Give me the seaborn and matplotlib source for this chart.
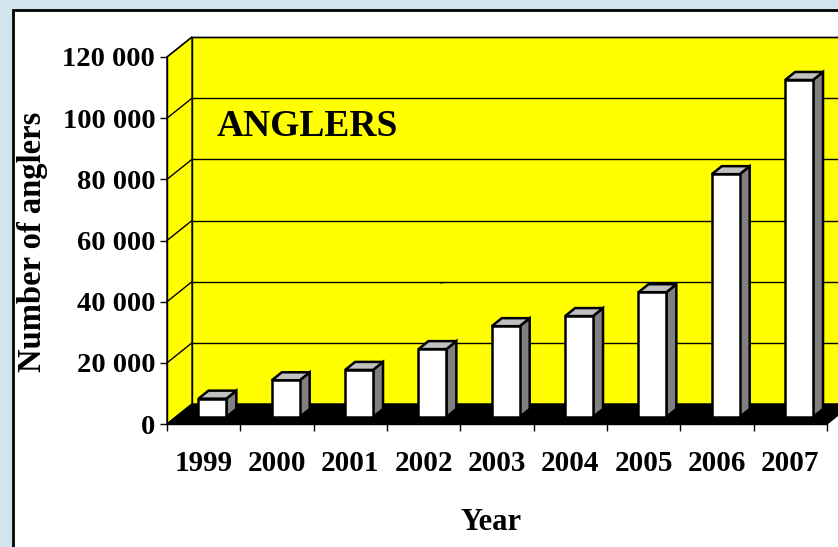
"""Anglers per year — pseudo-3D column chart, saved to out.png."""

import matplotlib.pyplot as plt
import numpy as np
import pandas as pd
import seaborn as sns
from matplotlib.patches import Polygon, Rectangle

sns.set_theme(style="white")
plt.rcParams["font.family"] = ["Liberation Serif", "DejaVu Serif"]
plt.rcParams["font.weight"] = "bold"
for key in ["text.color", "axes.labelcolor", "xtick.color", "ytick.color"]:
    plt.rcParams[key] = "black"

# data
years = ["1999", "2000", "2001", "2002", "2003", "2004", "2005", "2006", "2007"]
anglers = [6000, 12000, 15400, 22200, 29700, 33000, 40800, 79400, 110200]
y_ticks = [0, 20000, 40000, 60000, 80000, 100000, 120000]

df = pd.DataFrame({"Year": years, "Anglers": anglers})

W, H = 838, 547
fig = plt.figure(figsize=(W / 100, H / 100), dpi=100)
fig.patch.set_facecolor("#d2e4ee")

# white slide panel with black border
fig.add_artist(Rectangle((13 / W, -0.05), 1.1, 1.05 - 10 / H, transform=fig.transFigure,
                         facecolor="white", edgecolor="black", lw=2, zorder=0))

# axes = front plane of the 3D box
ax = fig.add_axes([167 / W, (H - 424) / H, 660 / W, 367 / H])
ax.patch.set_visible(False)
ax.set_xlim(-0.5, len(years) - 0.5)
ax.set_ylim(0, y_ticks[-1])

# depth vector in data units (25 px right, 20 px up)
px_x = 660 / len(years)
px_y = 367 / y_ticks[-1]
DX, DY = 25 / px_x, 20 / px_y
x0, x1, ymax = -0.5, len(years) - 0.5, y_ticks[-1]

yellow = "#ffff00"
# back wall
ax.add_patch(Rectangle((x0 + DX, DY), x1 - x0 + 1, ymax, facecolor=yellow,
                       edgecolor="black", lw=1, zorder=0, clip_on=False))
# left wall
ax.add_patch(Polygon([(x0, 0), (x0, ymax), (x0 + DX, ymax + DY), (x0 + DX, DY)],
                     facecolor=yellow, edgecolor="black", lw=1, zorder=0.5, clip_on=False))
# gridlines on both walls
for v in y_ticks[1:]:
    ax.plot([x0 + DX, x1 + DX + 1], [v + DY, v + DY], color="black", lw=1, zorder=1, clip_on=False)
    ax.plot([x0, x0 + DX], [v, v + DY], color="black", lw=1, zorder=1, clip_on=False)
# floor
ax.add_patch(Polygon([(x0, 0), (x1, 0), (x1 + DX, DY), (x0 + DX, DY)],
                     facecolor="black", edgecolor="black", lw=1, zorder=2, clip_on=False))

# front faces via seaborn, then push them back into the box
sns.barplot(data=df, x="Year", y="Anglers", color="white", saturation=1, width=0.38,
            edgecolor="black", linewidth=1.8, ax=ax, zorder=4)
s1, s2 = 0.35, 0.75
for p in ax.patches[-len(years):]:
    x, w, h = p.get_x() + s1 * DX, p.get_width(), p.get_height()
    b = s1 * DY
    p.set_x(x)
    p.set_y(b)
    p.set_clip_on(False)
    d = (s2 - s1)
    side = [(x + w, b), (x + w, b + h), (x + w + d * DX, b + h + d * DY), (x + w + d * DX, b + d * DY)]
    top = [(x, b + h), (x + w, b + h), (x + w + d * DX, b + h + d * DY), (x + d * DX, b + h + d * DY)]
    ax.add_patch(Polygon(side, facecolor="#808080", edgecolor="black", lw=1.8, zorder=3, clip_on=False))
    ax.add_patch(Polygon(top, facecolor="#c0c0c0", edgecolor="black", lw=1.8, zorder=3, clip_on=False))

# axes, ticks, labels
for side_name in ["top", "right"]:
    ax.spines[side_name].set_visible(False)
for side_name in ["left", "bottom"]:
    ax.spines[side_name].set_color("black")
    ax.spines[side_name].set_linewidth(1)
    ax.spines[side_name].set_zorder(5)

ax.set_yticks(y_ticks, [f"{v:,}".replace(",", " ") for v in y_ticks])
ax.set_xticks(np.arange(x0, x1 + 0.5, 1), [])
ax.set_xticks(np.arange(len(years)), years, minor=True)
ax.tick_params(axis="y", direction="out", length=5, width=1, color="black", pad=3.5,
               labelsize=20.5, left=True, labelcolor="black")
ax.tick_params(axis="x", which="major", direction="out", length=5, width=1, color="black",
               bottom=True)
ax.tick_params(axis="x", which="minor", length=0, pad=18.5, labelsize=21, labelcolor="black")
for lab in ax.get_xticklabels(minor=True) + ax.get_yticklabels():
    lab.set_fontweight("bold")

ax.set_xlabel("Year", fontsize=22, fontweight="bold", va="center", color="black")
ax.xaxis.set_label_coords((491 - 167) / 660, (424 - 523) / 367)
ax.set_ylabel("Number of anglers", fontsize=23.5, fontweight="bold", va="center", color="black")
ax.yaxis.set_label_coords((33 - 167) / 660, (424 - 242) / 367)

ax.text((217 - 167) / 660, (424 - 126) / 367, "ANGLERS", transform=ax.transAxes,
        fontsize=27, fontweight="bold", va="center", ha="left", zorder=6)
ax.text((441 - 167) / 660, (424 - 287) / 367, "``", transform=ax.transAxes,
        fontsize=6, va="center", ha="center", zorder=6)

fig.savefig("out.png", dpi=100)
